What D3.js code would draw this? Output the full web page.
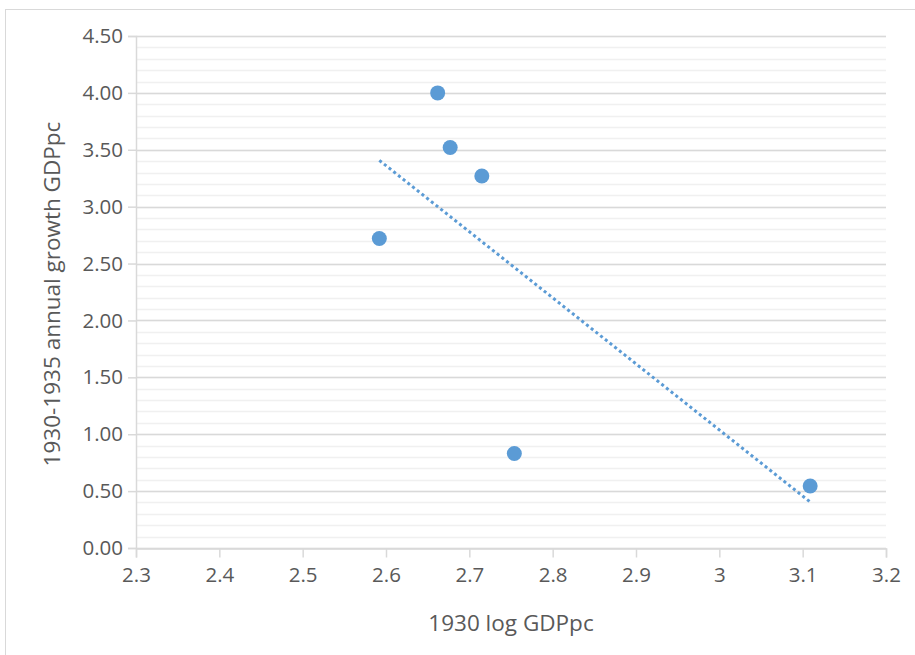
<!DOCTYPE html>
<html>
<head>
<meta charset="utf-8">
<script src="https://cdn.jsdelivr.net/npm/d3@7"></script>
<style>
  body { margin: 0; background: #fff; }
  svg { display: block; font-family: "Open Sans", sans-serif; }
</style>
</head>
<body>
<script>
// 1930 log GDPpc vs 1930-1935 annual growth GDPpc
const logGdp = [2.592, 2.662, 2.677, 2.715, 2.754, 3.109];
const growth = [2.72, 4.00, 3.52, 3.27, 0.83, 0.545];
const xTicks = [2.3, 2.4, 2.5, 2.6, 2.7, 2.8, 2.9, 3.0, 3.1, 3.2];
const yTicks = [0, 0.5, 1, 1.5, 2, 2.5, 3, 3.5, 4, 4.5];
const yMinor = d3.range(0, 4.501, 0.1);

const width = 915, height = 655;
const margin = { top: 36, right: 29, bottom: 107, left: 136 };
const grey = '#595959';

const svg = d3.select('body').append('svg').attr('width', width).attr('height', height);

// chart frame
svg.append('rect')
    .attr('x', 5.5).attr('y', 9.5)
    .attr('width', width + 10).attr('height', height + 10)
    .attr('fill', 'none').attr('stroke', '#d9d9d9');

const x = d3.scaleLinear().domain([2.3, 3.2]).range([margin.left, width - margin.right]);
const y = d3.scaleLinear().domain([0, 4.5]).range([height - margin.bottom, margin.top]);

// minor + major gridlines
svg.append('g').selectAll('line').data(yMinor).join('line')
    .attr('x1', x(2.3)).attr('x2', x(3.2))
    .attr('y1', d => Math.round(y(d)) + 0.5).attr('y2', d => Math.round(y(d)) + 0.5)
    .attr('stroke', '#f0f0f0').attr('stroke-width', 1.5);
svg.append('g').selectAll('line').data(yTicks).join('line')
    .attr('x1', x(2.3)).attr('x2', x(3.2))
    .attr('y1', d => Math.round(y(d)) + 0.5).attr('y2', d => Math.round(y(d)) + 0.5)
    .attr('stroke', '#d9d9d9').attr('stroke-width', 1.5);

// axes
const xAxis = svg.append('g')
    .attr('transform', `translate(0, ${Math.round(y(0)) + 0.5})`)
    .call(d3.axisBottom(x).tickValues(xTicks).tickFormat(d3.format('')).tickSize(9).tickPadding(10));
const yAxis = svg.append('g')
    .attr('transform', `translate(${x(2.3)}, 0)`)
    .call(d3.axisLeft(y).tickValues(yTicks).tickFormat(d3.format('.2f')).tickSize(8).tickPadding(5));
[xAxis, yAxis].forEach(a => {
    a.select('.domain').attr('stroke', '#d9d9d9').attr('stroke-width', 1.5);
    a.selectAll('.tick line').attr('stroke', '#d9d9d9').attr('stroke-width', 1.5);
    a.selectAll('.tick text').attr('fill', grey).attr('font-size', 20.5).attr('font-family', '"Open Sans", sans-serif');
});

// axis titles
svg.append('text')
    .attr('x', (x(2.3) + x(3.2)) / 2).attr('y', 631)
    .attr('text-anchor', 'middle').attr('fill', grey).attr('font-size', 22.5)
    .text('1930 log GDPpc');
svg.append('text')
    .attr('transform', `translate(60, ${(y(0) + y(4.5)) / 2 + 2}) rotate(-90)`)
    .attr('text-anchor', 'middle').attr('fill', grey).attr('font-size', 22.5)
    .text('1930-1935 annual growth GDPpc');

// linear trendline (least squares fit)
const mx = d3.mean(logGdp), my = d3.mean(growth);
const slope = d3.sum(logGdp, (v, i) => (v - mx) * (growth[i] - my)) / d3.sum(logGdp, v => (v - mx) ** 2);
const fit = v => my + slope * (v - mx);
const [x0, x1] = d3.extent(logGdp);
svg.append('line')
    .attr('x1', x(x0)).attr('y1', y(fit(x0)))
    .attr('x2', x(x1)).attr('y2', y(fit(x1)))
    .attr('stroke', '#5b9bd5').attr('stroke-width', 3)
    .attr('stroke-dasharray', '3 3');

// points
svg.append('g').selectAll('circle').data(logGdp).join('circle')
    .attr('cx', d => x(d)).attr('cy', (d, i) => y(growth[i]))
    .attr('r', 7.5).attr('fill', '#5b9bd5');
</script>
</body>
</html>
